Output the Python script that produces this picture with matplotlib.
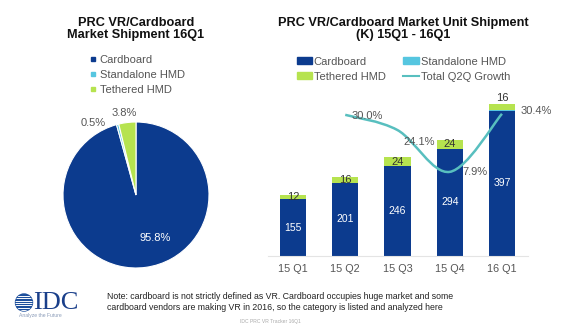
import matplotlib
matplotlib.use("Agg")
import matplotlib.pyplot as plt
from matplotlib.patches import Patch, Circle, PathPatch
from matplotlib.lines import Line2D
from matplotlib.path import Path

plt.rcParams['font.family'] = ['Liberation Sans', 'DejaVu Sans']

# data
pie_labels = ['Cardboard', 'Standalone HMD', 'Tethered HMD']
pie_share = [95.8, 0.5, 3.8]

quarters = ['15 Q1', '15 Q2', '15 Q3', '15 Q4', '16 Q1']
cardboard = [155, 201, 246, 294, 397]
standalone = [0, 0, 0, 0, 2]
tethered = [12, 16, 24, 24, 16]
growth_q = ['15 Q2', '15 Q3', '15 Q4', '16 Q1']
growth = [30.0, 24.1, 7.9, 30.4]

NAVY = '#0c3b8e'
CYAN = '#56c6e0'
GREEN = '#b6e34f'
LINE = '#58bfbf'
GRAY = '#555555'

W, H = 563, 331
fig = plt.figure(figsize=(W / 100, H / 100), dpi=100)


def box(x0, y0, x1, y1):
    # pixel box (top-left origin) -> figure fraction
    return [x0 / W, 1 - y1 / H, (x1 - x0) / W, (y1 - y0) / H]


bg = fig.add_axes([0, 0, 1, 1])
bg.set_xlim(0, W)
bg.set_ylim(H, 0)
bg.axis('off')

# titles
bg.text(136, 29, 'PRC VR/Cardboard\nMarket Shipment 16Q1', ha='center', va='center',
        fontsize=9.2, fontweight='bold', linespacing=1.05, color='#111111')
bg.text(403, 29, 'PRC VR/Cardboard Market Unit Shipment\n(K) 15Q1 - 16Q1', ha='center',
        va='center', fontsize=9.2, fontweight='bold', linespacing=1.05, color='#111111')

# pie
ax_pie = fig.add_axes(box(63, 122, 209, 268))
ax_pie.pie(pie_share, colors=[NAVY, CYAN, GREEN], startangle=90, counterclock=False,
           wedgeprops=dict(edgecolor='white', linewidth=0.8))
ax_pie.set_xlim(-1, 1)
ax_pie.set_ylim(-1, 1)
ax_pie.text(0.26, -0.59, f'{pie_share[0]:.1f}%', color='white', fontsize=8,
            ha='center', va='center')
ax_pie.text(-0.59, 0.99, f'{pie_share[1]:.1f}%', color=GRAY, fontsize=8,
            ha='center', va='center')
ax_pie.text(-0.16, 1.12, f'{pie_share[2]:.1f}%', color=GRAY, fontsize=8,
            ha='center', va='center')

pie_handles = [Line2D([], [], marker='s', ls='none', markersize=3.5, color=c)
               for c in [NAVY, CYAN, GREEN]]
fig.legend(pie_handles, pie_labels, loc='upper left', bbox_to_anchor=(84 / W, 1 - 49 / H),
           frameon=False, fontsize=8, labelcolor=GRAY, handlelength=0.6,
           handletextpad=0.3, labelspacing=0.45, borderpad=0)

# bars
ax = fig.add_axes(box(268, 96, 528, 256))
x = list(range(len(quarters)))
ax.bar(x, cardboard, width=0.5, color=NAVY, zorder=2)
bot2 = [c + s for c, s in zip(cardboard, standalone)]
ax.bar(x, standalone, width=0.5, bottom=cardboard, color=CYAN, zorder=2)
ax.bar(x, tethered, width=0.5, bottom=bot2, color=GREEN, zorder=2)
ax.set_xlim(-0.478, 4.498)
ax.set_ylim(0, 438)
ax.set_xticks(x, quarters)
ax.tick_params(axis='x', length=0, labelsize=7.8, labelcolor=GRAY, pad=6)
ax.set_yticks([])
for s in ['top', 'left', 'right']:
    ax.spines[s].set_visible(False)
ax.spines['bottom'].set_color('#e4e4e4')

for i in x:
    ax.text(i, cardboard[i] / 2, str(cardboard[i]), color='white', fontsize=7.5,
            ha='center', va='center', zorder=3)
    if i == len(x) - 1:
        ty = bot2[i] + tethered[i] + 18
    else:
        ty = bot2[i] + tethered[i] / 2
    ax.text(i, ty, str(tethered[i]), color='#333333', fontsize=8, ha='center',
            va='center', zorder=3)

# growth line (smoothed)
ax2 = ax.twinx()
ax2.set_ylim(-24.7, 37.3)
ax2.axis('off')
gx = [quarters.index(q) for q in growth_q]
pts = list(zip(gx, growth))
verts = [pts[0]]
codes = [Path.MOVETO]
for k in range(len(pts) - 1):
    p0 = pts[k - 1] if k > 0 else pts[k]
    p1, p2 = pts[k], pts[k + 1]
    p3 = pts[k + 2] if k + 2 < len(pts) else pts[k + 1]
    c1 = (p1[0] + (p2[0] - p0[0]) / 6, p1[1] + (p2[1] - p0[1]) / 6)
    c2 = (p2[0] - (p3[0] - p1[0]) / 6, p2[1] - (p3[1] - p1[1]) / 6)
    verts += [c1, c2, p2]
    codes += [Path.CURVE4] * 3
ax2.add_patch(PathPatch(Path(verts, codes), facecolor='none', edgecolor=LINE,
                        linewidth=1.8, zorder=4))
offsets = [(0.13, -0.5), (0.12, -4.5), (0.24, 0), (0.35, 1.0)]
for (gxi, g), (dx, dy) in zip(pts, offsets):
    ax2.text(gxi + dx, g + dy, f'{g:.1f}%', color=GRAY, fontsize=8, ha='left',
             va='center', zorder=5)

# legend filled column-wise: Cardboard / Tethered | Standalone / Total
bar_handles = [Patch(color=NAVY), Patch(color=GREEN), Patch(color=CYAN),
               Line2D([], [], color=LINE, lw=1.5)]
bar_labels = ['Cardboard', 'Tethered HMD', 'Standalone HMD', 'Total Q2Q Growth']
fig.legend(bar_handles, bar_labels, loc='upper left', ncol=2,
           bbox_to_anchor=(291 / W, 1 - 51 / H), frameon=False, fontsize=8,
           labelcolor=GRAY, handlelength=1.4, handleheight=0.55, handletextpad=0.15,
           labelspacing=0.45, columnspacing=1.6, borderpad=0)

# footer: logo + note
globe = Circle((24, 302.5), 8.5, color='#1d4f9c')
bg.add_patch(globe)
for yy in [296, 298.3, 300.6, 302.9, 305.2, 307.5, 309.8]:
    ln = bg.plot([14, 34], [yy, yy], color='white', lw=0.7)[0]
    ln.set_clip_path(globe)
bg.text(33, 303, 'IDC', family=['Liberation Serif'], fontsize=19, color='#1a3f8a',
        ha='left', va='center')
bg.text(19, 316, 'Analyze the Future', fontsize=3.6, color='#8a9bb8', ha='left',
        va='center')
bg.text(107, 302, 'Note: cardboard is not strictly defined as VR. Cardboard occupies huge '
        'market and some\ncardboard vendors are making VR in 2016, so the category is '
        'listed and analyzed here', fontsize=6.3, color='#222222', ha='left', va='center',
        linespacing=1.25)
bg.text(270, 321, 'IDC PRC VR Tracker 16Q1', fontsize=3.6, color='#aaaaaa', ha='center',
        va='center')

fig.savefig('out.png', dpi=100, facecolor='white')
